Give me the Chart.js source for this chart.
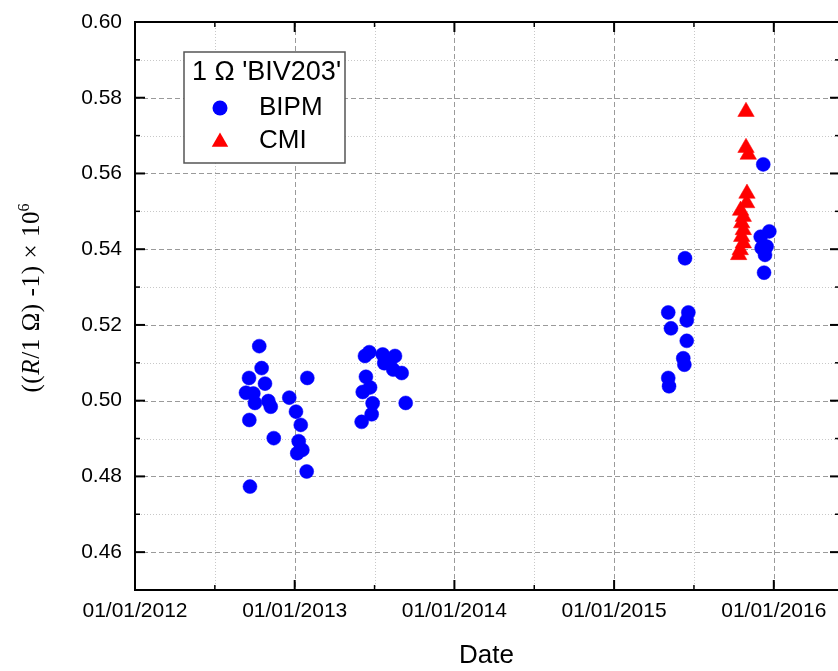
<!DOCTYPE html>
<html><head><meta charset="utf-8">
<script src="https://cdn.jsdelivr.net/npm/chart.js@4.4.0/dist/chart.umd.min.js"></script>
<style>html,body{margin:0;padding:0;background:#fff;overflow:hidden}#wrap{width:838px;height:671px;position:relative}</style>
</head><body><div id="wrap"><canvas id="c"></canvas></div>
<script>
// Dates as decimal years
const bipmDates = [
  2012.778, 2012.793, 2012.714, 2012.814, 2012.695, 2012.741, 2012.751, 2012.835, 2012.850, 2012.716,
  2012.869, 2012.720, 2012.966, 2013.079, 2013.008, 2013.038, 2013.025, 2013.048, 2013.016, 2013.075,
  2013.440, 2013.467, 2013.551, 2013.628, 2013.561, 2013.617, 2013.670, 2013.446, 2013.472, 2013.426,
  2013.488, 2013.482, 2013.419, 2013.695, 2013.597,
  2015.339, 2015.465, 2015.455, 2015.356, 2015.455, 2015.433, 2015.440, 2015.339, 2015.344, 2015.444,
  2015.934, 2015.972, 2015.918, 2015.955, 2015.924, 2015.945, 2015.939
];
const bipmValues = [
  0.5144, 0.5086, 0.5060, 0.5045, 0.5021, 0.5019, 0.4994, 0.4999, 0.4984, 0.4949,
  0.4901, 0.4773, 0.5008, 0.5060, 0.4971, 0.4936, 0.4893, 0.4870, 0.4861, 0.4813,
  0.5118, 0.5128, 0.5122, 0.5118, 0.5099, 0.5082, 0.5073, 0.5063, 0.5035, 0.5023,
  0.4993, 0.4964, 0.4944, 0.4994, 0.5107,
  0.5233, 0.5233, 0.5212, 0.5191, 0.5158, 0.5112, 0.5095, 0.5060, 0.5038, 0.5376,
  0.5624, 0.5447, 0.5433, 0.5407, 0.5403, 0.5385, 0.5338
];
const cmiDates = [
  2015.826, 2015.826, 2015.840, 2015.832, 2015.830, 2015.792, 2015.809, 2015.799, 2015.809,
  2015.799, 2015.809, 2015.790, 2015.780
];
const cmiValues = [
  0.5763, 0.5668, 0.5650, 0.5547, 0.5522, 0.5502, 0.5486, 0.5469, 0.5451,
  0.5433, 0.5416, 0.5398, 0.5385
];
const xTickYears = [2012, 2013, 2014, 2015, 2016];
const yTickValues = [0.46, 0.48, 0.50, 0.52, 0.54, 0.56, 0.58, 0.60];
const seriesNames = ['BIPM', 'CMI'];
const legendTitle = "1 \u03A9 'BIV203'";
const xTitle = 'Date';
const X_MIN = 2012, X_MAX = 2016.402, Y_MIN = 0.45, Y_MAX = 0.60;

const SANS = '"Liberation Sans", Arial, sans-serif';
const SERIF = '"Liberation Serif", "Times New Roman", serif';

function pts(xs, ys) { return xs.map((x, i) => ({x: x, y: ys[i]})); }
function isHundredth(v) { return Math.abs(v * 100 - Math.round(v * 100)) < 1e-6; }
function isHalf(v) { return Math.abs(v * 2 - Math.round(v * 2)) < 1e-6; }
function isWhole(v) { return Math.abs(v - Math.round(v)) < 1e-6; }

const framePlugin = {
  id: 'frame',
  beforeDatasetsDraw(chart) {
    const {ctx, chartArea: a, scales: {x, y}} = chart;
    ctx.save();
    ctx.beginPath(); ctx.rect(a.left, a.top, a.right - a.left, a.bottom - a.top); ctx.clip();
    ctx.lineWidth = 1;
    y.ticks.forEach(t => {
      const v = t.value;
      if (!isHundredth(v)) return;
      const n = Math.round(v * 100);
      if (n <= 45 || n >= 60) return;
      const py = Math.round(y.getPixelForValue(v)) + 0.5;
      const major = n % 2 === 0;
      ctx.strokeStyle = major ? '#9a9a9a' : '#c8c8c8';
      ctx.setLineDash(major ? [5, 3] : [1, 2]);
      ctx.beginPath(); ctx.moveTo(a.left, py); ctx.lineTo(a.right, py); ctx.stroke();
    });
    x.ticks.forEach(t => {
      const v = t.value;
      if (!isHalf(v) || v <= x.min + 1e-6) return;
      const px = Math.round(x.getPixelForValue(v)) + 0.5;
      const major = isWhole(v);
      ctx.strokeStyle = major ? '#9a9a9a' : '#c8c8c8';
      ctx.setLineDash(major ? [5, 3] : [1, 2]);
      ctx.beginPath(); ctx.moveTo(px, a.top); ctx.lineTo(px, a.bottom); ctx.stroke();
    });
    ctx.restore();
  },
  afterDatasetsDraw(chart) {
    const {ctx, chartArea: a, scales: {x, y}} = chart;
    ctx.save();
    ctx.setLineDash([]);
    ctx.strokeStyle = '#000';
    ctx.lineWidth = 2;
    ctx.beginPath();
    ctx.moveTo(a.right + 2, a.top); ctx.lineTo(a.left, a.top); ctx.lineTo(a.left, a.bottom); ctx.lineTo(a.right + 2, a.bottom);
    ctx.stroke();
    y.ticks.forEach(t => {
      const v = t.value;
      if (!isHundredth(v)) return;
      const n = Math.round(v * 100);
      if (n <= 45 || n >= 60) return;
      const major = n % 2 === 0;
      const len = major ? 10 : 5;
      ctx.lineWidth = major ? 2 : 1.5;
      const py = y.getPixelForValue(v);
      ctx.beginPath(); ctx.moveTo(a.left, py); ctx.lineTo(a.left + len, py); ctx.stroke();
      ctx.beginPath(); ctx.moveTo(a.right + 2, py); ctx.lineTo(a.right + 2 - len, py); ctx.stroke();
    });
    x.ticks.forEach(t => {
      const v = t.value;
      if (!isHalf(v) || v <= x.min + 1e-6) return;
      const major = isWhole(v);
      const len = major ? 10 : 5;
      ctx.lineWidth = major ? 2 : 1.5;
      const px = x.getPixelForValue(v);
      ctx.beginPath(); ctx.moveTo(px, a.bottom); ctx.lineTo(px, a.bottom - len); ctx.stroke();
      ctx.beginPath(); ctx.moveTo(px, a.top); ctx.lineTo(px, a.top + len); ctx.stroke();
    });
    // legend
    const lx = a.left + 49, ly = a.top + 30, lw = 161, lh = 111;
    ctx.fillStyle = '#fff';
    ctx.fillRect(lx, ly, lw, lh);
    ctx.strokeStyle = '#555';
    ctx.lineWidth = 1.5;
    ctx.strokeRect(lx, ly, lw, lh);
    ctx.fillStyle = '#000';
    ctx.textBaseline = 'middle';
    ctx.textAlign = 'center';
    ctx.font = '27px ' + SANS;
    ctx.fillText(legendTitle, lx + lw / 2 + 2, ly + 21);
    ctx.font = '26px ' + SANS;
    ctx.textAlign = 'left';
    ctx.fillText(seriesNames[0], lx + 75, ly + 56);
    ctx.fillText(seriesNames[1], lx + 75, ly + 89);
    const mx = lx + 36;
    ctx.fillStyle = '#0000ff';
    ctx.beginPath(); ctx.arc(mx, ly + 56, 7.5, 0, Math.PI * 2); ctx.fill();
    ctx.fillStyle = '#ff0000';
    const r = 9.5, cy = ly + 90;
    ctx.beginPath();
    for (let k = 0; k < 3; k++) {
      const ang = k * 2 * Math.PI / 3;
      const px = mx + Math.sin(ang) * r, py = cy - Math.cos(ang) * r;
      if (k === 0) ctx.moveTo(px, py); else ctx.lineTo(px, py);
    }
    ctx.closePath(); ctx.fill();
    // y axis title: ((R/1 Ω) -1) × 10^6, R italic, 6 superscript
    const size = 25;
    const segs = [];
    const addSeg = (txt, font, dy, sp) => { for (const ch of txt) segs.push({t: ch, f: font, dy: dy, sp: sp}); };
    addSeg('((', size + 'px ' + SERIF, 0, 0.6);
    addSeg('R', 'italic ' + size + 'px ' + SERIF, 0, 0.6);
    addSeg('/1 \u03A9) -1) \u00D7 1', size + 'px ' + SERIF, 0, 0.6);
    addSeg('0', size + 'px ' + SERIF, 0, 0);
    addSeg('6', Math.round(size * 0.62) + 'px ' + SERIF, -size * 0.42, 0);
    let total = 0;
    segs.forEach(p => { ctx.font = p.f; p.w = ctx.measureText(p.t).width; total += p.w + p.sp; });
    ctx.translate(39, 298);
    ctx.rotate(-Math.PI / 2);
    ctx.textBaseline = 'alphabetic';
    ctx.textAlign = 'left';
    ctx.fillStyle = '#000';
    let tx = -total / 2;
    segs.forEach(p => { ctx.font = p.f; ctx.fillText(p.t, tx, p.dy); tx += p.w + p.sp; });
    ctx.restore();
  }
};

new Chart(document.getElementById('c'), {
  type: 'scatter',
  data: {
    datasets: [
      {label: seriesNames[0], data: pts(bipmDates, bipmValues), pointStyle: 'circle', pointRadius: 7,
       backgroundColor: '#0000ff', borderColor: '#0000ff', borderWidth: 0.5},
      {label: seriesNames[1], data: pts(cmiDates, cmiValues), pointStyle: 'triangle', pointRadius: 9.5,
       backgroundColor: '#ff0000', borderColor: '#ff0000', borderWidth: 0.5}
    ]
  },
  options: {
    responsive: true, maintainAspectRatio: false, animation: false,
    layout: {autoPadding: false, padding: {top: 22, right: 0, bottom: 0, left: 0}},
    plugins: {legend: {display: false}, tooltip: {enabled: false}},
    scales: {
      x: {
        type: 'linear', min: X_MIN, max: X_MAX,
        grid: {display: false, drawTicks: false}, border: {display: false},
        afterBuildTicks: s => {
          const t = [];
          xTickYears.forEach(yr => { t.push({value: yr}); if (yr + 0.5 <= X_MAX) t.push({value: yr + 0.5}); });
          s.ticks = t;
        },
        ticks: {
          autoSkip: false, maxRotation: 0, minRotation: 0, padding: 9, color: '#000',
          font: {family: SANS, size: 21},
          callback: v => { const yr = xTickYears.find(k => Math.abs(k - v) < 1e-6); return yr ? '01/01/' + yr : ''; }
        },
        title: {display: true, text: xTitle, color: '#000', font: {family: SANS, size: 26}, padding: {top: 0, bottom: 0}},
        afterFit: s => { s.height = 81; s.paddingLeft = 0; s.paddingRight = 0; }
      },
      y: {
        type: 'linear', min: Y_MIN, max: Y_MAX,
        grid: {display: false, drawTicks: false}, border: {display: false},
        ticks: {
          stepSize: 0.01, autoSkip: false, padding: 13, color: '#000',
          font: {family: SANS, size: 21},
          callback: v => { const t = yTickValues.find(k => Math.abs(k - v) < 1e-6); return t !== undefined ? t.toFixed(2) : ''; }
        },
        afterFit: s => { s.width = 135; s.paddingTop = 0; s.paddingBottom = 0; }
      }
    }
  },
  plugins: [framePlugin]
});
</script>
</body></html>
